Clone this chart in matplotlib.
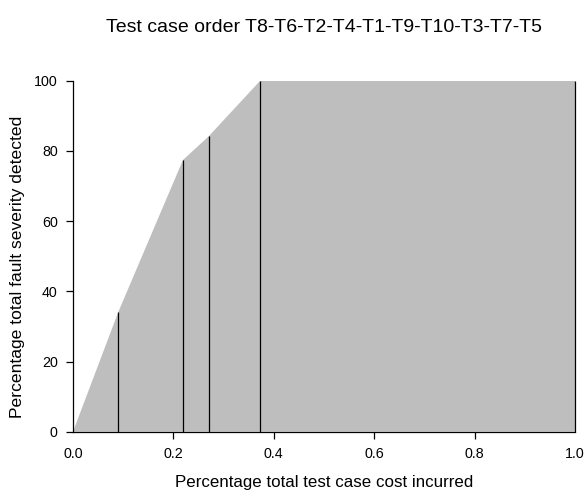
import matplotlib
matplotlib.use("Agg")
import matplotlib.pyplot as plt

plt.rcParams['font.family'] = ['Liberation Sans', 'DejaVu Sans']

# cumulative cost fraction and cumulative severity % after each test case that detected faults
cost = [0.0, 0.0905, 0.219, 0.2706, 0.373, 1.0]
severity = [0.0, 34.2, 77.4, 84.2, 100.0, 100.0]
xticks = [0.0, 0.2, 0.4, 0.6, 0.8, 1.0]
yticks = [0, 20, 40, 60, 80, 100]
title = "Test case order T8-T6-T2-T4-T1-T9-T10-T3-T7-T5"

fig = plt.figure(figsize=(5.86, 4.94), dpi=100)
ax = fig.add_axes([73/586, 1-431.7/494, (575-73)/586, (431.7-80.7)/494])

px = cost + [cost[-1]]
py = severity + [0.0]
ax.fill(px, py, color='#bebebe', linewidth=0)
ax.vlines(cost[1:], 0, severity[1:], color='black', linewidth=0.9, clip_on=False)

ax.set_xlim(0, 1)
ax.set_ylim(0, 100)
ax.set_xticks(xticks)
ax.set_xticklabels([f"{v:.1f}" for v in xticks])
ax.set_yticks(yticks)
for s in ['top', 'right']:
    ax.spines[s].set_visible(False)
for s in ['left', 'bottom']:
    ax.spines[s].set_linewidth(0.9)
ax.tick_params(direction='out', length=5, width=0.9, labelsize=10.3, pad=6)
xt = ax.xaxis.get_major_ticks()
for t in (xt[0], xt[-1]):
    t.tick1line.set_visible(False)

cx = (73 + 575) / 2 / 586
fig.text(cx, 1-482/494, "Percentage total test case cost incurred", ha='center', va='center', fontsize=12.2)
fig.text(17.5/586, 1-266.5/494, "Percentage total fault severity detected", ha='center', va='center', fontsize=12.6, rotation=90)
fig.text(cx, 1-28/494, title, ha='center', va='center', fontsize=14)

fig.savefig("out.png", dpi=100)
